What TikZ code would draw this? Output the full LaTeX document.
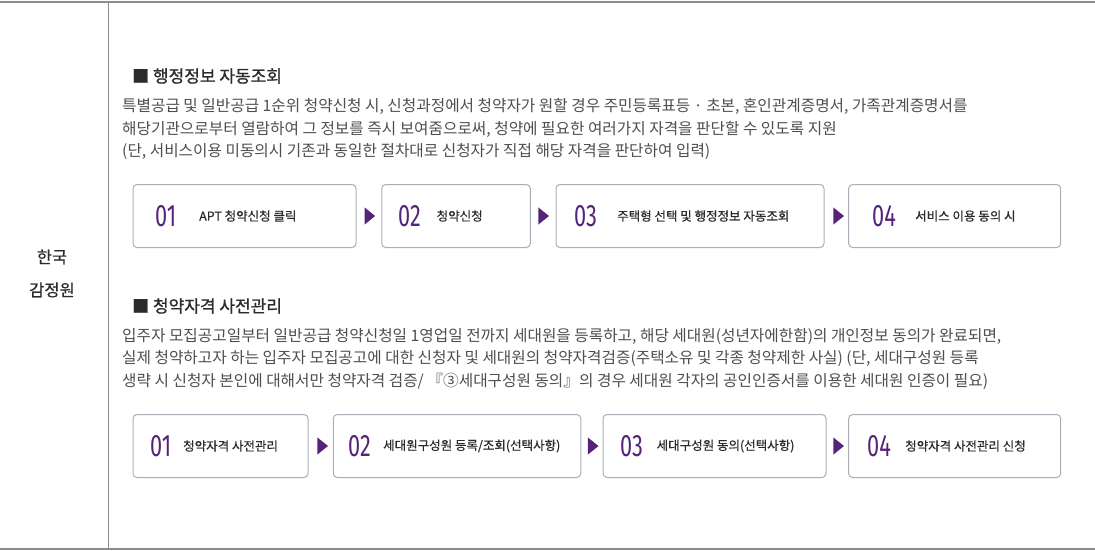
\documentclass[tikz,border=0pt]{standalone}
\usepackage{fontspec}
\setmainfont{Noto Sans CJK KR}
\newfontfamily\krmed{Noto Sans CJK KR}[FakeBold=0.6]
\newfontfamily\krhead{Noto Sans CJK KR}[FakeBold=1.0]
\newfontfamily\numfont{Fira Sans}[FakeStretch=0.7]
\usetikzlibrary{shapes.geometric}
\definecolor{linegray}{HTML}{8C8C8C}
\definecolor{boxgray}{HTML}{A9AFB8}
\definecolor{bodytext}{HTML}{4E4E4E}
\definecolor{headtext}{HTML}{2B2B2B}
\definecolor{purp}{HTML}{55237A}
\tikzset{
  stepbox/.style={draw=boxgray, line width=1pt, rounded corners=4pt, fill=white, inner sep=0pt, minimum height=63pt},
  numtxt/.style={anchor=west, inner sep=0pt, text=purp, font=\numfont\fontsize{31}{31}\selectfont},
  boxtxt/.style={anchor=west, inner sep=0pt, text=headtext, font=\krmed\fontsize{12.5}{14}\selectfont},
  headtxt/.style={anchor=west, inner sep=0pt, text=headtext, font=\krhead\fontsize{17}{19}\selectfont},
  bodytxt/.style={anchor=west, inner sep=0pt, text=bodytext, font=\fontsize{15.7}{18}\selectfont},
  tri/.style={isosceles triangle, isosceles triangle apex angle=78, fill=purp, inner sep=0pt, minimum height=10.5pt, minimum width=13pt},
  sidetxt/.style={inner sep=0pt, text=headtext, font=\krmed\fontsize{16.5}{18}\selectfont}
}
\begin{document}
\begin{tikzpicture}[x=1pt,y=-1pt]
\useasboundingbox (0,0) rectangle (1095,551);
\draw[linegray, line width=1.2pt] (0,2) -- (1095,2);
\draw[linegray, line width=1.2pt] (0,549) -- (1095,549);
\draw[linegray, line width=1pt] (108,2) -- (108,549);
\node[sidetxt] (lab1) at (52,257) {한국};
\node[sidetxt] (lab2) at (52,290) {감정원};
% section 1
\node[headtxt] (h1) at (132,76) {■ 행정정보 자동조회};
\node[bodytxt] (b11) at (122,106) {특별공급 및 일반공급 1순위 청약신청 시, 신청과정에서 청약자가 원할 경우 주민등록표등 · 초본, 혼인관계증명서, 가족관계증명서를};
\node[bodytxt] (b12) at (122,129) {해당기관으로부터 열람하여 그 정보를 즉시 보여줌으로써, 청약에 필요한 여러가지 자격을 판단할 수 있도록 지원};
\node[bodytxt] (b13) at (122,152) {(단, 서비스이용 미동의시 기존과 동일한 절차대로 신청자가 직접 해당 자격을 판단하여 입력)};
\node[stepbox, minimum width=223pt] (a1) at (244.5,216) {};
\node[stepbox, minimum width=148.5pt] (a2) at (456,216) {};
\node[stepbox, minimum width=268pt] (a3) at (690,216) {};
\node[stepbox, minimum width=212pt] (a4) at (954.7,216) {};
\node[numtxt] (n11) at (155,216) {01};
\node[boxtxt] (t11) at (199,216) {APT 청약신청 클릭};
\node[numtxt] (n12) at (398,216) {02};
\node[boxtxt] (t12) at (436.5,216) {청약신청};
\node[numtxt] (n13) at (574,216) {03};
\node[boxtxt] (t13) at (617,216) {주택형 선택 및 행정정보 자동조회};
\node[numtxt] (n14) at (872,216) {04};
\node[boxtxt] (t14) at (915,216) {서비스 이용 동의 시};
\node[tri] (r11) at (368.7,216) {};
\node[tri] (r12) at (542.5,216) {};
\node[tri] (r13) at (837.5,216) {};
% section 2
\node[headtxt] (h2) at (132,306) {■ 청약자격 사전관리};
\node[bodytxt] (b21) at (122,336) {입주자 모집공고일부터 일반공급 청약신청일 1영업일 전까지 세대원을 등록하고, 해당 세대원(성년자에한함)의 개인정보 동의가 완료되면,};
\node[bodytxt] (b22) at (122,359) {실제 청약하고자 하는 입주자 모집공고에 대한 신청자 및 세대원의 청약자격검증(주택소유 및 각종 청약제한 사실) (단, 세대구성원 등록};
\node[bodytxt] (b23) at (122,381) {생략 시 신청자 본인에 대해서만 청약자격 검증/ 『③세대구성원 동의』의 경우 세대원 각자의 공인인증서를 이용한 세대원 인증이 필요)};
\node[stepbox, minimum width=175pt] (c1) at (220.5,446) {};
\node[stepbox, minimum width=247.5pt] (c2) at (457,446) {};
\node[stepbox, minimum width=223pt] (c3) at (714.5,446) {};
\node[stepbox, minimum width=212pt] (c4) at (954.7,446) {};
\node[numtxt] (n21) at (150,446) {01};
\node[boxtxt] (t21) at (183,446) {청약자격 사전관리};
\node[numtxt] (n22) at (348,446) {02};
\node[boxtxt] (t22) at (383,446) {세대원구성원 등록/조회(선택사항)};
\node[numtxt] (n23) at (620,446) {03};
\node[boxtxt] (t23) at (656.5,446) {세대구성원 동의(선택사항)};
\node[numtxt] (n24) at (867,446) {04};
\node[boxtxt] (t24) at (905,446) {청약자격 사전관리 신청};
\node[tri] (r21) at (321.5,446) {};
\node[tri] (r22) at (592,446) {};
\node[tri] (r23) at (837.5,446) {};
\end{tikzpicture}
\end{document}
